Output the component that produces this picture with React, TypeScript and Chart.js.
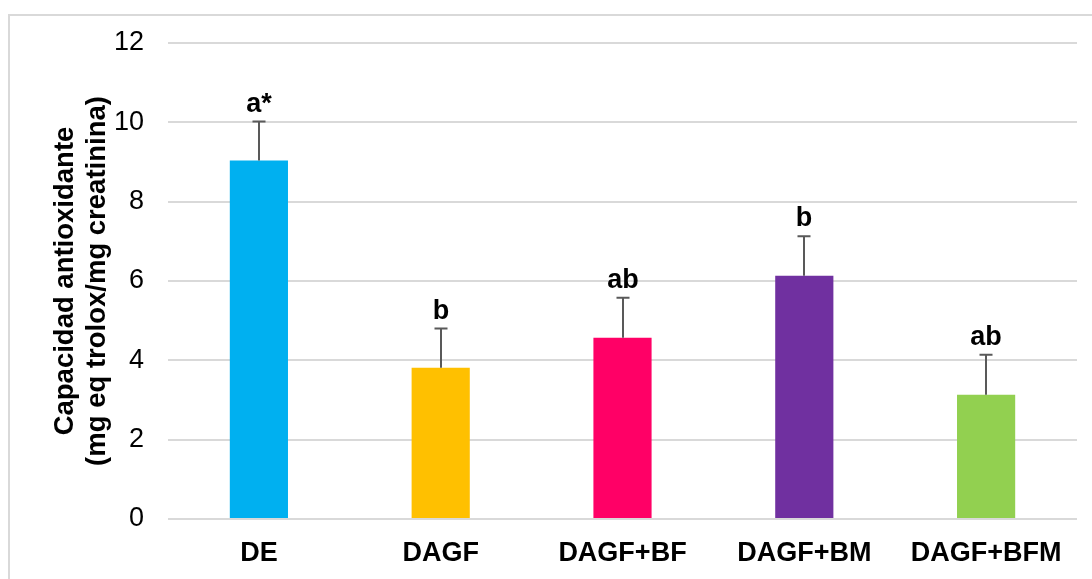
import React, { useEffect, useRef } from 'react';
import { Chart, registerables } from 'chart.js';

Chart.register(...registerables);

// Group names, mean antioxidant capacity, upper error and significance letters
const groups = ['DE', 'DAGF', 'DAGF+BF', 'DAGF+BM', 'DAGF+BFM'];
const means = [9.04, 3.81, 4.57, 6.13, 3.13];
const errors = [0.98, 0.99, 1.01, 1.0, 1.01];
const letters = ['a*', 'b', 'ab', 'b', 'ab'];
const barColors = ['#00B0F0', '#FFC000', '#FF0066', '#7030A0', '#92D050'];
const yTitle = ['Capacidad antioxidante', '(mg eq trolox/mg creatinina)'];

const FONT = "'Liberation Sans', Arial, sans-serif";

// Draws one-sided (upward) error bars and the letter above each bar
const errorBarPlugin = {
  id: 'errorBarsAndLetters',
  afterDatasetsDraw(chart: any) {
    const { ctx } = chart;
    const meta = chart.getDatasetMeta(0);
    const yScale = chart.scales.y;
    ctx.save();
    meta.data.forEach((bar: any, i: number) => {
      const x = Math.round(bar.x);
      const yTop = bar.y;
      const yErr = yScale.getPixelForValue(means[i] + errors[i]);
      ctx.strokeStyle = '#595959';
      ctx.lineWidth = 2;
      ctx.beginPath();
      ctx.moveTo(x, yTop);
      ctx.lineTo(x, yErr);
      ctx.moveTo(x - 6.5, yErr);
      ctx.lineTo(x + 6.5, yErr);
      ctx.stroke();

      ctx.fillStyle = '#000000';
      ctx.font = `bold 27px ${FONT}`;
      ctx.textAlign = 'center';
      ctx.textBaseline = 'alphabetic';
      ctx.fillText(letters[i], x, yErr - 10);
    });
    ctx.restore();
  },
};

export default function App() {
  const canvasRef = useRef<HTMLCanvasElement | null>(null);

  useEffect(() => {
    if (!canvasRef.current) return;
    const chart = new Chart(canvasRef.current, {
      type: 'bar',
      data: {
        labels: groups,
        datasets: [
          {
            data: means,
            backgroundColor: barColors,
            borderWidth: 0,
            categoryPercentage: 1,
            barPercentage: 0.32,
          },
        ],
      },
      options: {
        responsive: false,
        animation: false,
        devicePixelRatio: 1,
        layout: { padding: { top: 27, right: 15, bottom: 0, left: 0 } },
        plugins: {
          legend: { display: false },
          tooltip: { enabled: false },
        },
        scales: {
          x: {
            grid: { display: false, drawTicks: false },
            border: { display: false },
            ticks: {
              color: '#000000',
              font: { family: FONT, size: 27, weight: 'bold' },
              padding: 18,
              maxRotation: 0,
              autoSkip: false,
            },
            afterFit(scale: any) {
              scale.height = 60;
              scale.paddingLeft = 0;
              scale.paddingRight = 0;
            },
          },
          y: {
            min: 0,
            max: 12,
            ticks: {
              stepSize: 2,
              color: '#000000',
              font: { family: FONT, size: 27 },
              padding: 24,
            },
            grid: { color: '#d9d9d9', lineWidth: 2, drawTicks: false },
            border: { display: false },
            title: {
              display: true,
              text: yTitle,
              color: '#000000',
              font: { family: FONT, size: 27.5, weight: 'bold', lineHeight: 1.15 },
              padding: { top: 40, bottom: 0 },
            },
            afterFit(scale: any) {
              scale.width = 158;
              scale.paddingTop = 0;
              scale.paddingBottom = 0;
            },
          },
        },
      },
      plugins: [errorBarPlugin],
    });
    return () => chart.destroy();
  }, []);

  return (
    <div
      style={{
        position: 'fixed',
        left: 8,
        top: 14,
        width: 1084,
        height: 565,
        borderLeft: '2px solid #d9d9d9',
        borderTop: '2px solid #d9d9d9',
        boxSizing: 'border-box',
        background: '#ffffff',
      }}
    >
      <canvas ref={canvasRef} width={1082} height={563} style={{ display: 'block' }} />
    </div>
  );
}
